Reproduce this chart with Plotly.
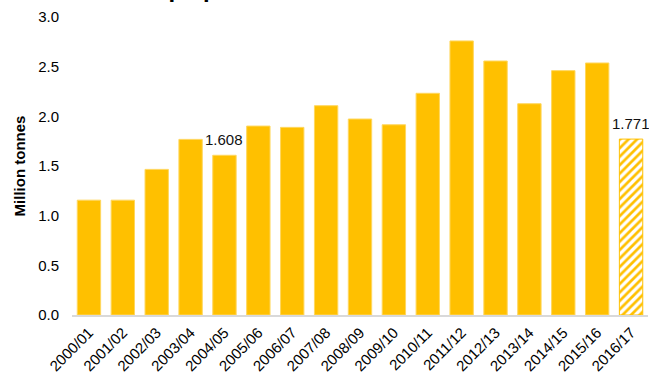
import plotly.graph_objects as go

# UK oilseed rape production by harvest year (million tonnes)
seasons = ["2000/01", "2001/02", "2002/03", "2003/04", "2004/05", "2005/06",
           "2006/07", "2007/08", "2008/09", "2009/10", "2010/11", "2011/12",
           "2012/13", "2013/14", "2014/15", "2015/16", "2016/17"]
production = [1.156, 1.156, 1.466, 1.768, 1.608, 1.902, 1.889, 2.107, 1.973,
              1.915, 2.232, 2.759, 2.557, 2.127, 2.460, 2.537, 1.771]
# the latest season is a provisional estimate
provisional = [False] * 16 + [True]
labelled = ["2004/05", "2016/17"]

y_ticks = [0.0, 0.5, 1.0, 1.5, 2.0, 2.5, 3.0]
y_tick_text = [f"{t:.1f}" for t in y_ticks]

GOLD = "#FFC000"
FONT = "Liberation Sans, Arial, sans-serif"

fig = go.Figure()

fig.add_trace(go.Bar(
    x=seasons,
    y=production,
    marker=dict(
        color=GOLD,
        line=dict(color=[GOLD if p else "#FFD75E" for p in provisional], width=1),
        pattern=dict(
            shape=["/" if p else "" for p in provisional],
            fillmode="replace",
            fgcolor=[GOLD] * len(seasons),
            bgcolor=["white"] * len(seasons),
            size=6,
            solidity=0.45,
        ),
    ),
    width=0.69,
    hoverinfo="skip",
))

for s, v in zip(seasons, production):
    if s in labelled:
        fig.add_annotation(
            x=s, y=v, text=f"{v:.3f}", showarrow=False,
            yanchor="bottom", yshift=5,
            font=dict(family=FONT, size=15, color="#111111"),
        )

# chart title, sitting at the very top edge of the page
fig.add_annotation(
    xref="paper", yref="paper", x=-0.103, y=1, xanchor="left", yanchor="bottom",
    yshift=13, showarrow=False,
    text="<b>UK oilseed rape production</b>",
    font=dict(family=FONT, size=24, color="#000000"),
)

fig.update_layout(
    width=649, height=376,
    margin=dict(l=71.5, r=1, t=17, b=61.3, pad=0),
    paper_bgcolor="white", plot_bgcolor="white",
    showlegend=False,
    font=dict(family=FONT, size=15, color="#000000"),
)

fig.update_xaxes(
    type="category",
    automargin=False,
    tickangle=-45,
    tickfont=dict(family=FONT, size=15, color="#000000"),
    showline=True, linecolor="#D9D9D9", linewidth=2,
    showgrid=False, ticks="",
    ticklabelstandoff=1,
    range=[-0.5, len(seasons) - 0.5],
)

fig.update_yaxes(
    range=[0, 3.0],
    automargin=False,
    tickvals=y_ticks, ticktext=y_tick_text,
    tickfont=dict(family=FONT, size=15, color="#000000"),
    showgrid=False, zeroline=False, showline=False, ticks="",
    ticklabelstandoff=12,
    title=dict(text="<b>Million tonnes</b>", font=dict(family=FONT, size=15, color="#000000"),
               standoff=8),
)

fig.write_html("out.html")
